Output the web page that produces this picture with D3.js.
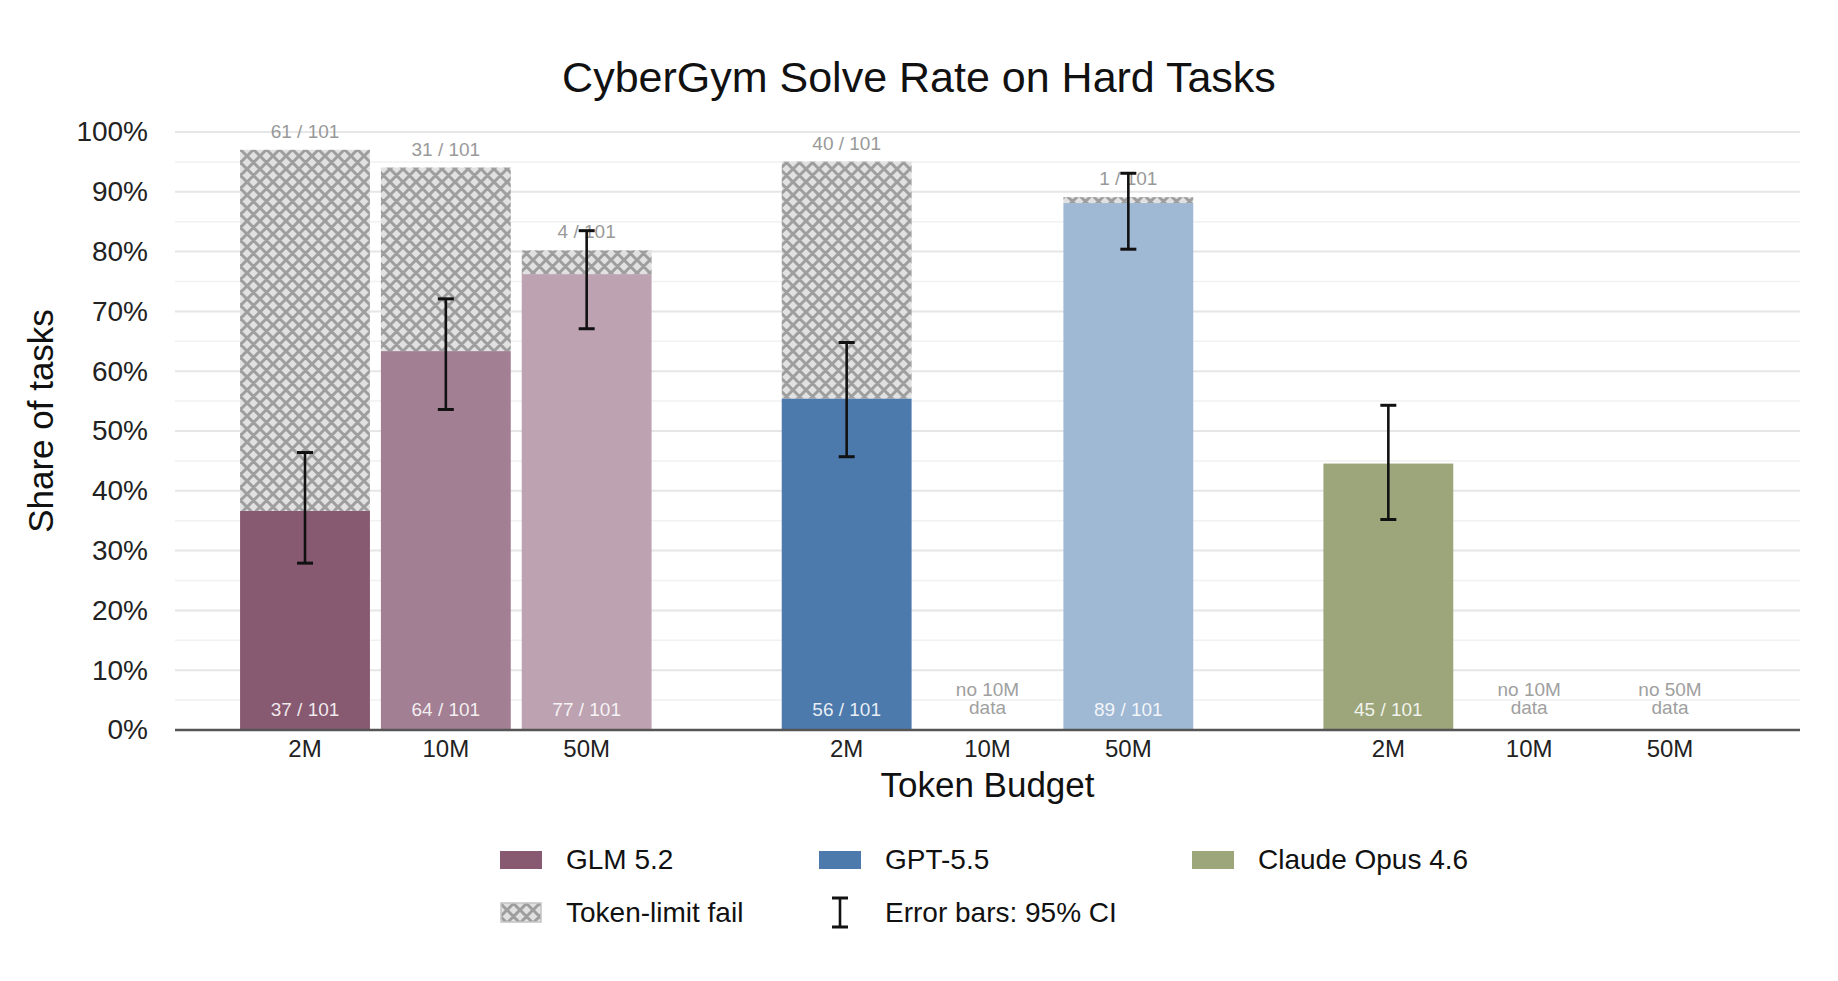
<!DOCTYPE html>
<html>
<head>
<meta charset="utf-8">
<script src="https://cdn.jsdelivr.net/npm/d3@7"></script>
<style>
  body { margin: 0; background: #fff; }
  text { font-family: "Liberation Sans", Arial, Helvetica, sans-serif; }
</style>
</head>
<body>
<script>
// data
var models = ["GLM 5.2", "GPT-5.5", "Claude Opus 4.6"];
var budgets = ["2M", "10M", "50M"];
var totalTasks = 101;

// solved / token-limit fails per budget (null = no data)
var glmSolved = [37, 64, 77];
var glmFail = [61, 31, 4];
var gptSolved = [56, null, 89];
var gptFail = [40, null, 1];
var claudeSolved = [45, null, null];
var claudeFail = [0, null, null];

// 95% CI in percent
var glmCiLow = [27.9, 53.6, 67.1];
var glmCiHigh = [46.4, 72.1, 83.5];
var gptCiLow = [45.7, null, 80.4];
var gptCiHigh = [64.8, null, 93.1];
var claudeCiLow = [35.2, null, null];
var claudeCiHigh = [54.3, null, null];

var yTicks = [0, 10, 20, 30, 40, 50, 60, 70, 80, 90, 100];

// styles
var glmColors = ["#875a72", "#a37f93", "#bda3b2"];
var gptColors = ["#4c7aad", "#7d9cc2", "#9fb8d4"];
var claudeColors = ["#9ca67a", "#b4bb98", "#cbd0b6"];
var legendColors = ["#875a72", "#4c7aad", "#9ca67a"];

var solvedAll = [glmSolved, gptSolved, claudeSolved];
var failAll = [glmFail, gptFail, claudeFail];
var loAll = [glmCiLow, gptCiLow, claudeCiLow];
var hiAll = [glmCiHigh, gptCiHigh, claudeCiHigh];
var colorAll = [glmColors, gptColors, claudeColors];

var rows = [];
models.forEach(function(m, i){
  budgets.forEach(function(b, j){
    rows.push({
      model: m, budget: b,
      solved: solvedAll[i][j], fail: failAll[i][j],
      lo: loAll[i][j], hi: hiAll[i][j],
      color: colorAll[i][j]
    });
  });
});

var W = 1838, H = 981;
var plotL = 175, plotR = 1800, plotT = 132, plotB = 730;

var svg = d3.select(document.body).append('svg')
  .attr('width', W).attr('height', H);

// hatch pattern for token-limit fails
var hs = 13;
var defs = svg.append('defs');
var pat = defs.append('pattern')
  .attr('id', 'hatch')
  .attr('patternUnits', 'userSpaceOnUse')
  .attr('width', hs).attr('height', hs);
pat.append('rect').attr('width', hs).attr('height', hs).attr('fill', '#e1e1e1');
pat.append('path')
  .attr('d', 'M0,0L' + hs + ',' + hs + 'M' + hs + ',0L0,' + hs +
    'M' + (-hs) + ',0L' + hs + ',' + (2 * hs) + 'M0,' + (-hs) + 'L' + (2 * hs) + ',' + hs +
    'M' + (-hs) + ',' + hs + 'L' + hs + ',' + (-hs) + 'M0,' + (2 * hs) + 'L' + (2 * hs) + ',0')
  .attr('stroke', '#9e9e9e').attr('stroke-width', 3).attr('fill', 'none');

var y = d3.scaleLinear().domain([0, 100]).range([plotB, plotT]);
var x0 = d3.scaleBand().domain(models).range([plotL, plotR])
  .paddingInner(0.22).paddingOuter(0.11);
var x1 = d3.scaleBand().domain(budgets).range([0, x0.bandwidth()])
  .paddingInner(0.078).paddingOuter(0.039);

function cx(d){ return x0(d.model) + x1(d.budget) + x1.bandwidth() / 2; }
function pct(n){ return n / totalTasks * 100; }

// title
svg.append('text')
  .attr('x', W / 2).attr('y', 92)
  .attr('text-anchor', 'middle')
  .style('font-size', '43px').style('fill', '#111')
  .text('CyberGym Solve Rate on Hard Tasks');

// gridlines
var grid = svg.append('g');
grid.selectAll('line')
  .data(d3.range(0, 101, 5))
  .enter().append('line')
  .attr('x1', plotL).attr('x2', plotR)
  .attr('y1', function(d){ return y(d); })
  .attr('y2', function(d){ return y(d); })
  .attr('stroke', function(d){ return d % 10 === 0 ? '#e6e6e6' : '#f1f1f1'; })
  .attr('stroke-width', function(d){ return d % 10 === 0 ? 2 : 1.5; });

// y axis
var yAxis = svg.append('g')
  .attr('transform', 'translate(' + plotL + ',0)')
  .call(d3.axisLeft(y).tickValues(yTicks).tickSize(0).tickPadding(27)
    .tickFormat(function(d){ return d + '%'; }));
yAxis.select('.domain').remove();
yAxis.selectAll('text')
  .style('font-size', '28px').style('fill', '#222')
  .style('font-family', '"Liberation Sans", Arial, sans-serif');

svg.append('text')
  .attr('transform', 'translate(53,421) rotate(-90)')
  .attr('text-anchor', 'middle')
  .style('font-size', '35px').style('fill', '#111')
  .text('Share of tasks');

// bars
var withData = rows.filter(function(d){ return d.solved !== null; });

svg.append('g').selectAll('rect')
  .data(withData)
  .enter().append('rect')
  .attr('x', function(d){ return x0(d.model) + x1(d.budget); })
  .attr('width', x1.bandwidth())
  .attr('y', function(d){ return y(pct(d.solved)); })
  .attr('height', function(d){ return y(0) - y(pct(d.solved)); })
  .attr('fill', function(d){ return d.color; });

var failRows = withData.filter(function(d){ return d.fail > 0; });

svg.append('g').selectAll('rect')
  .data(failRows)
  .enter().append('rect')
  .attr('x', function(d){ return x0(d.model) + x1(d.budget); })
  .attr('width', x1.bandwidth())
  .attr('y', function(d){ return y(pct(d.solved + d.fail)); })
  .attr('height', function(d){ return y(pct(d.solved)) - y(pct(d.solved + d.fail)); })
  .attr('fill', 'url(#hatch)');

// labels
svg.append('g').selectAll('text')
  .data(withData)
  .enter().append('text')
  .attr('x', cx).attr('y', 716)
  .attr('text-anchor', 'middle')
  .style('font-size', '19px').style('fill', 'rgba(255,255,255,0.88)')
  .text(function(d){ return d.solved + ' / ' + totalTasks; });

svg.append('g').selectAll('text')
  .data(failRows)
  .enter().append('text')
  .attr('x', cx)
  .attr('y', function(d){ return y(pct(d.solved + d.fail)) - 12; })
  .attr('text-anchor', 'middle')
  .style('font-size', '19px').style('fill', '#999')
  .text(function(d){ return d.fail + ' / ' + totalTasks; });

var noData = svg.append('g').selectAll('text')
  .data(rows.filter(function(d){ return d.solved === null; }))
  .enter().append('text')
  .attr('text-anchor', 'middle')
  .style('font-size', '19px').style('fill', '#a0a0a0');
noData.append('tspan').attr('x', cx).attr('y', 696)
  .text(function(d){ return 'no ' + d.budget; });
noData.append('tspan').attr('x', cx).attr('y', 714).text('data');

// error bars
var cap = 8;
var eb = svg.append('g').selectAll('g')
  .data(withData)
  .enter().append('g')
  .attr('stroke', '#111').attr('stroke-width', 2.6);
eb.append('line')
  .attr('x1', cx).attr('x2', cx)
  .attr('y1', function(d){ return y(d.lo); })
  .attr('y2', function(d){ return y(d.hi); });
eb.append('line')
  .attr('x1', function(d){ return cx(d) - cap; })
  .attr('x2', function(d){ return cx(d) + cap; })
  .attr('y1', function(d){ return y(d.hi); })
  .attr('y2', function(d){ return y(d.hi); })
  .attr('stroke-width', 3);
eb.append('line')
  .attr('x1', function(d){ return cx(d) - cap; })
  .attr('x2', function(d){ return cx(d) + cap; })
  .attr('y1', function(d){ return y(d.lo); })
  .attr('y2', function(d){ return y(d.lo); })
  .attr('stroke-width', 3);

// baseline
svg.append('line')
  .attr('x1', plotL).attr('x2', plotR)
  .attr('y1', y(0)).attr('y2', y(0))
  .attr('stroke', '#555').attr('stroke-width', 2.5);

// x axis, one per model group
models.forEach(function(m){
  var ax = svg.append('g')
    .attr('transform', 'translate(' + x0(m) + ',' + y(0) + ')')
    .call(d3.axisBottom(x1).tickSize(0).tickPadding(10));
  ax.select('.domain').remove();
  ax.selectAll('text')
    .style('font-size', '24px').style('fill', '#222')
    .style('font-family', '"Liberation Sans", Arial, sans-serif');
});

svg.append('text')
  .attr('x', (plotL + plotR) / 2).attr('y', 797)
  .attr('text-anchor', 'middle')
  .style('font-size', '35px').style('fill', '#111')
  .text('Token Budget');

// legend
var legX = [500, 819, 1192];
var leg = svg.append('g');
models.forEach(function(m, i){
  leg.append('rect')
    .attr('x', legX[i]).attr('y', 851)
    .attr('width', 42).attr('height', 18)
    .attr('fill', legendColors[i]);
  leg.append('text')
    .attr('x', legX[i] + 66).attr('y', 869)
    .style('font-size', '28px').style('fill', '#111')
    .text(m);
});

leg.append('rect')
  .attr('x', legX[0] + 1).attr('y', 903)
  .attr('width', 40).attr('height', 19)
  .attr('fill', 'url(#hatch)')
  .attr('stroke', '#c4c4c4').attr('stroke-width', 1.5);
leg.append('text')
  .attr('x', legX[0] + 66).attr('y', 922)
  .style('font-size', '28px').style('fill', '#111')
  .text('Token-limit fail');

var icon = leg.append('g').attr('stroke', '#111').attr('stroke-width', 2.6);
var iconX = legX[1] + 21;
icon.append('line').attr('x1', iconX).attr('x2', iconX).attr('y1', 898).attr('y2', 927);
icon.append('line').attr('x1', iconX - cap).attr('x2', iconX + cap).attr('y1', 898).attr('y2', 898).attr('stroke-width', 3);
icon.append('line').attr('x1', iconX - cap).attr('x2', iconX + cap).attr('y1', 927).attr('y2', 927).attr('stroke-width', 3);
leg.append('text')
  .attr('x', legX[1] + 66).attr('y', 922)
  .style('font-size', '28px').style('fill', '#111')
  .text('Error bars: 95% CI');
</script>
</body>
</html>
